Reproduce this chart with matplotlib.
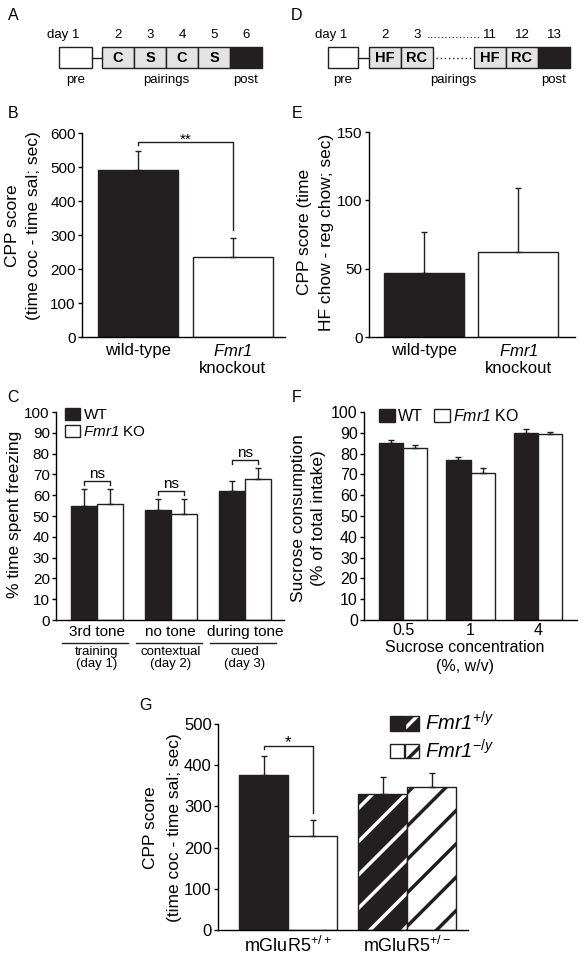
import numpy as np
import matplotlib
matplotlib.use('Agg')
import matplotlib.pyplot as plt
import matplotlib.patches as mpatches
from matplotlib.legend_handler import HandlerTuple
from matplotlib.transforms import blended_transform_factory

plt.rcParams['font.family'] = ['Liberation Sans', 'DejaVu Sans']
plt.rcParams['mathtext.fontset'] = 'custom'
plt.rcParams['mathtext.rm'] = 'Liberation Sans'
plt.rcParams['mathtext.it'] = 'Liberation Sans:italic'
plt.rcParams['mathtext.bf'] = 'Liberation Sans:bold'
# italic gene name incl. digit ("1" would stay upright under \mathit)
plt.rcParams['mathtext.sf'] = 'Liberation Sans:italic'
plt.rcParams['hatch.linewidth'] = 2.5
plt.rcParams['axes.linewidth'] = 1.0

# A: cocaine CPP schedule
a_days = ['day 1', '2', '3', '4', '5', '6']
a_boxes = ['', 'C', 'S', 'C', 'S', '']
a_phases = ['pre', 'pairings', 'post']

# D: high-fat chow CPP schedule
d_days = ['day 1', '2', '3', '11', '12', '13']
d_boxes = ['', 'HF', 'RC', 'HF', 'RC', '']
d_phases = ['pre', 'pairings', 'post']

# B: cocaine CPP
b_labels = ['wild-type', '$\\mathsf{Fmr1}$\nknockout']
b_means = [490, 235]
b_sem = [57, 56]

# E: high-fat chow CPP
e_means = [47, 62]
e_sem = [30, 47]

# C: fear conditioning
c_tests = ['3rd tone', 'no tone', 'during tone']
c_phases = ['training\n(day 1)', 'contextual\n(day 2)', 'cued\n(day 3)']
c_wt = [55, 53, 62]
c_wt_sem = [8, 5, 5]
c_ko = [56, 51, 68]
c_ko_sem = [7, 7, 5]

# F: sucrose preference
f_conc = ['0.5', '1', '4']
f_wt = [85, 77, 90]
f_wt_sem = [1.5, 1.5, 2]
f_ko = [82.5, 70.5, 89.5]
f_ko_sem = [1.5, 2.5, 1]

# G: mGluR5 cross
g_labels = ['mGluR5$^{+/+}$', 'mGluR5$^{+/-}$']
g_wt = [377, 330]
g_wt_sem = [45, 42]
g_ko = [228, 348]
g_ko_sem = [40, 32]

W, H = 584, 958
BLACK = '#231f20'
GRAY = '#e3e3e3'

fig = plt.figure(figsize=(W / 100, H / 100), dpi=100)

# overlay in pixel units for the schedules and letters
ov = fig.add_axes([0, 0, 1, 1])
ov.set_xlim(0, W)
ov.set_ylim(H, 0)
ov.axis('off')


def rect(left, top, right, bottom):
    return [left / W, 1 - bottom / H, (right - left) / W, (bottom - top) / H]


def draw_schedule(x0, pre_w, x1, boxes, days, phases, gap_at=None, gap=0):
    cells = [(x0, pre_w)]
    x = x1
    for i in range(1, len(boxes)):
        cells.append((x, 32))
        x += 32
        if i == gap_at:
            x += gap
    n = len(cells)
    for i, ((x, w), lab) in enumerate(zip(cells, boxes)):
        face = 'white' if i == 0 else (BLACK if i == n - 1 else GRAY)
        ov.add_patch(mpatches.Rectangle((x, 47), w, 21, facecolor=face,
                                        edgecolor=BLACK, lw=1))
        if lab:
            ov.text(x + w / 2, 58, lab, ha='center', va='center',
                    fontsize=10.5, fontweight='bold')
        if i == 0:
            ov.text(x + w / 2 + 4, 35, days[i], ha='right', va='center', fontsize=9.5)
        else:
            ov.text(x + w / 2, 35, days[i], ha='center', va='center', fontsize=9.5)
    # connector from pre box
    ov.plot([x0 + pre_w, x1], [57.5, 57.5], color=BLACK, lw=1)
    if gap_at is not None:
        xa = cells[gap_at][0] + 32
        xb = cells[gap_at + 1][0]
        ov.plot([xa + 3, xb - 3], [57.5, 57.5], color=BLACK, lw=1, ls=(0, (1, 2)))
        ca = cells[gap_at][0] + 16
        cb = cells[gap_at + 1][0] + 16
        ov.text((ca + cb) / 2, 35, '.' * 15, ha='center', va='center', fontsize=9.5)
    ov.text(cells[0][0] + cells[0][1] / 2, 80, phases[0], ha='center', va='center', fontsize=9.5)
    ov.text((cells[1][0] + cells[-1][0]) / 2, 80, phases[1], ha='center', va='center', fontsize=9.5)
    ov.text(cells[-1][0] + 16, 80, phases[2], ha='center', va='center', fontsize=9.5)


draw_schedule(59, 33, 102, a_boxes, a_days, a_phases)
draw_schedule(328, 30, 369, d_boxes, d_days, d_phases, gap_at=2, gap=41)

for letter, (x, y) in zip('ABCDEFG', [(13, 15), (13, 113), (13, 397), (297, 15),
                                       (297, 113), (297, 397), (146, 705)]):
    ov.text(x, y, letter, ha='center', va='center', fontsize=11.5)


def bar_axes(box, ymax, step, size):
    ax = fig.add_axes(rect(*box))
    ax.spines['top'].set_visible(False)
    ax.spines['right'].set_visible(False)
    ax.set_ylim(0, ymax)
    ax.set_yticks(np.arange(0, ymax + 1, step))
    ax.tick_params(axis='y', length=3, width=1, pad=1.5, labelsize=size)
    ax.tick_params(axis='x', length=0, pad=4)
    ax.patch.set_alpha(0)
    return ax


def err(ax, x, y, e):
    ax.errorbar(x, y, yerr=[np.zeros(len(e)), e], fmt='none', ecolor=BLACK,
                elinewidth=1, capsize=2, capthick=1, zorder=3)


def ylabel(lines, xs, yc, size=12.5):
    for t, x in zip(lines, xs):
        fig.text(x / W, 1 - yc / H, t, rotation=90, ha='center', va='center', fontsize=size)


# ---- B ----
axB = bar_axes((82, 133, 285, 337), 600, 100, 11)
pos = np.arange(2)
axB.bar(pos, b_means, 0.85, color=[BLACK, 'white'], edgecolor=BLACK, lw=1)
err(axB, pos, b_means, b_sem)
axB.set_xlim(-0.59, 1.55)
axB.set_xticks(pos, b_labels, fontsize=12)
top = max(np.add(b_means, b_sem)) + 26
axB.plot([0, 0, 1, 1], [top - 8, top, top, b_means[1] + b_sem[1] + 24], color=BLACK, lw=1)
axB.text(0.5, top - 6, '**', ha='center', va='baseline', fontsize=11)
ylabel(['CPP score', '(time coc - time sal; sec)'], [13, 34], 226)

# ---- E ----
axE = bar_axes((369, 132, 575, 337), 150, 50, 11)
axE.bar(pos, e_means, 0.85, color=[BLACK, 'white'], edgecolor=BLACK, lw=1)
err(axE, pos, e_means, e_sem)
axE.set_xlim(-0.58, 1.6)
axE.set_xticks(pos, b_labels, fontsize=12)
ylabel(['CPP score (time', 'HF chow - reg chow; sec)'], [305, 326], 232)

# ---- C ----
axC = bar_axes((56, 412, 284, 620), 100, 10, 11)
pos = np.arange(3)
w = 0.35
axC.bar(pos - w / 2, c_wt, w, color=BLACK, edgecolor=BLACK, lw=1, label='WT')
axC.bar(pos + w / 2, c_ko, w, color='white', edgecolor=BLACK, lw=1, label='$\\mathsf{Fmr1}$ KO')
err(axC, pos - w / 2, c_wt, c_wt_sem)
err(axC, pos + w / 2, c_ko, c_ko_sem)
axC.set_xlim(-0.55, 2.53)
axC.set_xticks([])
trC = blended_transform_factory(axC.transData, axC.transAxes)
for i in range(3):
    axC.text(i, -0.025, c_tests[i], transform=trC, ha='center', va='top', fontsize=11)
    axC.plot([i - 0.47, i + 0.42], [-0.11, -0.11], transform=trC, color=BLACK, lw=1, clip_on=False)
    axC.text(i, -0.125, c_phases[i], transform=trC, ha='center', va='top', fontsize=9.5,
             linespacing=0.95)
    top = max(c_wt[i] + c_wt_sem[i], c_ko[i] + c_ko_sem[i]) + 4
    axC.plot([i - w / 2, i - w / 2, i + w / 2, i + w / 2], [top - 2, top, top, top - 2],
             color=BLACK, lw=1)
    axC.text(i, top + 1.5, 'ns', ha='center', va='baseline', fontsize=11)
axC.legend(loc='upper left', bbox_to_anchor=(0.04, 1.02), frameon=False, fontsize=11,
           handlelength=1.0, handleheight=0.85, handletextpad=0.2, labelspacing=0.15,
           borderpad=0, borderaxespad=0)
ylabel(['% time spent freezing'], [15], 514)

# ---- F ----
axF = bar_axes((364, 412, 577, 620), 100, 10, 11.5)
w = 0.36
axF.bar(pos - w / 2, f_wt, w, color=BLACK, edgecolor=BLACK, lw=1, label='WT')
axF.bar(pos + w / 2, f_ko, w, color='white', edgecolor=BLACK, lw=1, label='$\\mathsf{Fmr1}$ KO')
err(axF, pos - w / 2, f_wt, f_wt_sem)
err(axF, pos + w / 2, f_ko, f_ko_sem)
axF.set_xlim(-0.58, 2.58)
axF.set_xticks(pos, f_conc, fontsize=11.5)
axF.tick_params(axis='x', pad=2)
axF.legend(loc='upper left', bbox_to_anchor=(0.07, 1.02), frameon=False, fontsize=11.5, ncol=2,
           handlelength=1.0, handleheight=0.85, handletextpad=0.2, columnspacing=0.7,
           borderpad=0, borderaxespad=0)
fig.text(465 / W, 1 - 647 / H, 'Sucrose concentration', ha='center', va='center', fontsize=11.5)
fig.text(465 / W, 1 - 666 / H, '(%, w/v)', ha='center', va='center', fontsize=11.5)
ylabel(['Sucrose consumption', '(% of total intake)'], [298, 319], 518)

# ---- G ----
axG = bar_axes((218, 724, 468, 930), 500, 100, 12)
pos = np.arange(2)
w = 0.41
for i in range(2):
    hatch = '/' if i == 1 else ''
    for vals, face, ink, off in [(g_wt, BLACK, 'white', -w / 2), (g_ko, 'white', BLACK, w / 2)]:
        axG.bar(pos[i] + off, vals[i], w, color=face, edgecolor=ink, hatch=hatch, lw=0)
        axG.bar(pos[i] + off, vals[i], w, fill=False, edgecolor=BLACK, lw=1)
err(axG, pos - w / 2, g_wt, g_wt_sem)
err(axG, pos + w / 2, g_ko, g_ko_sem)
axG.set_xlim(-0.59, 1.51)
axG.set_xticks(pos, g_labels, fontsize=13)
top = g_wt[0] + g_wt_sem[0] + 25
axG.plot([-w / 2, -w / 2, w / 2, w / 2], [top - 7, top, top, g_ko[0] + g_ko_sem[0] + 16],
         color=BLACK, lw=1)
axG.text(0, top - 2, '*', ha='center', va='baseline', fontsize=12)

solid_k = mpatches.Patch(facecolor=BLACK, edgecolor=BLACK, lw=1)
hatch_k = mpatches.Patch(facecolor=BLACK, edgecolor='white', hatch='/', lw=0)
solid_w = mpatches.Patch(facecolor='white', edgecolor=BLACK, lw=1)
hatch_w = mpatches.Patch(facecolor='white', edgecolor=BLACK, hatch='/', lw=0)
outline = mpatches.Patch(fill=False, edgecolor=BLACK, lw=1)
row1 = (solid_k, (hatch_k, outline))
row2 = (solid_w, (hatch_w, outline))
axG.legend([row1, row2], ['$\\mathsf{Fmr1}^{+/y}$', '$\\mathsf{Fmr1}^{-/y}$'],
           handler_map={row1: HandlerTuple(ndivide=None, pad=0.05),
                        row2: HandlerTuple(ndivide=None, pad=0.05)},
           loc='upper left', bbox_to_anchor=(0.688, 1.06), frameon=False, fontsize=14.5,
           handlelength=1.45, handleheight=0.75, handletextpad=0.3, labelspacing=0.2,
           borderpad=0, borderaxespad=0)
ylabel(['CPP score', '(time coc - time sal; sec)'], [150, 175], 828)

fig.savefig('out.png', dpi=100)
